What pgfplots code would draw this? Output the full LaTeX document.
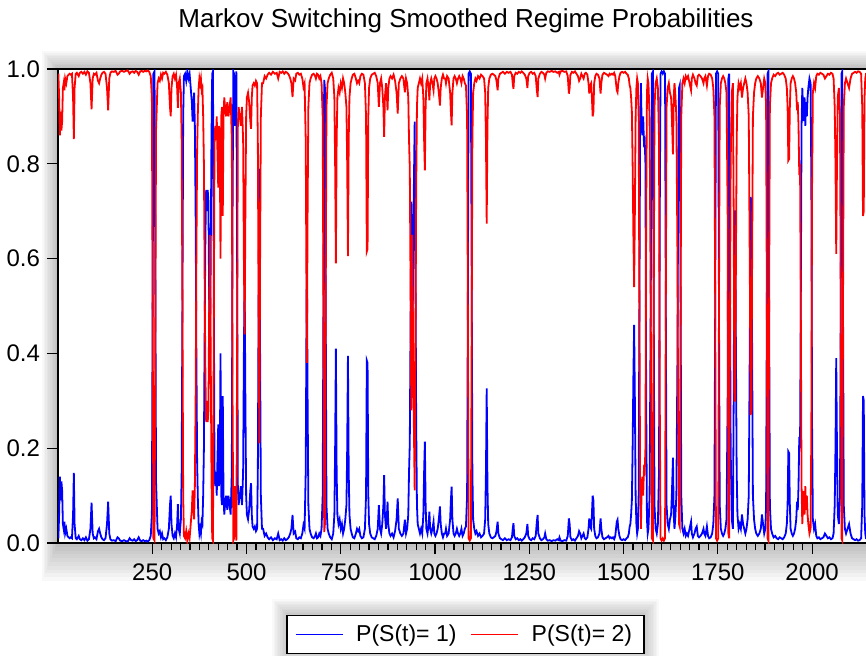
\documentclass[border=0pt]{standalone}
\usepackage{pgfplots}
\usepackage{pgfplotstable}
\usepackage{fontspec}
\setmainfont{Liberation Sans}
\pgfplotsset{compat=1.18}

% smoothed regime probabilities
\pgfplotstableread{
x p1 p2
1 0.010 0.990
3 0.060 0.940
5 0.140 0.860
7 0.090 0.910
9 0.130 0.870
11 0.110 0.890
13 0.040 0.960
15 0.030 0.970
17 0.045 0.955
19 0.020 0.980
22 0.030 0.970
25 0.015 0.985
28 0.012 0.988
31 0.010 0.990
34 0.012 0.988
37 0.010 0.990
40 0.060 0.940
42 0.148 0.852
44 0.040 0.960
47 0.010 0.990
50 0.008 0.992
55 0.015 0.985
58 0.008 0.992
62 0.006 0.994
66 0.010 0.990
70 0.006 0.994
74 0.012 0.988
78 0.005 0.995
82 0.008 0.992
86 0.030 0.970
89 0.085 0.915
92 0.020 0.980
95 0.010 0.990
98 0.012 0.988
102 0.008 0.992
106 0.025 0.975
109 0.030 0.970
112 0.020 0.980
115 0.012 0.988
118 0.008 0.992
122 0.006 0.994
126 0.010 0.990
130 0.040 0.960
133 0.087 0.913
136 0.020 0.980
139 0.008 0.992
143 0.005 0.995
148 0.006 0.994
153 0.004 0.996
158 0.012 0.988
161 0.010 0.990
165 0.005 0.995
170 0.004 0.996
175 0.006 0.994
180 0.004 0.996
185 0.003 0.997
190 0.010 0.990
194 0.006 0.994
198 0.005 0.995
202 0.008 0.992
206 0.004 0.996
210 0.006 0.994
214 0.012 0.988
218 0.005 0.995
222 0.004 0.996
226 0.006 0.994
230 0.004 0.996
234 0.005 0.995
238 0.003 0.997
242 0.006 0.994
246 0.015 0.985
249 0.060 0.940
251 0.500 0.500
253 0.990 0.010
256 0.995 0.005
258 0.600 0.400
260 0.130 0.870
262 0.080 0.920
264 0.030 0.970
267 0.020 0.980
270 0.025 0.975
273 0.012 0.988
276 0.020 0.980
279 0.008 0.992
282 0.010 0.990
286 0.006 0.994
290 0.012 0.988
294 0.030 0.970
297 0.080 0.920
299 0.100 0.900
301 0.040 0.960
304 0.015 0.985
307 0.010 0.990
310 0.020 0.980
313 0.012 0.988
316 0.040 0.960
318 0.082 0.918
320 0.030 0.970
323 0.020 0.980
326 0.050 0.950
328 0.150 0.850
330 0.500 0.500
332 0.900 0.100
334 0.985 0.015
337 0.990 0.010
340 0.975 0.025
343 0.995 0.005
346 0.980 0.020
349 0.990 0.010
352 0.960 0.040
355 0.930 0.070
357 0.889 0.111
359 0.920 0.080
361 0.950 0.050
363 0.880 0.120
365 0.700 0.300
367 0.400 0.600
369 0.170 0.830
371 0.090 0.910
373 0.040 0.960
375 0.020 0.980
377 0.030 0.970
379 0.020 0.980
381 0.045 0.955
383 0.040 0.960
385 0.100 0.900
387 0.200 0.800
389 0.450 0.550
391 0.650 0.350
393 0.745 0.255
395 0.700 0.300
397 0.745 0.255
399 0.720 0.280
401 0.500 0.500
403 0.350 0.650
405 0.600 0.400
407 0.850 0.150
409 0.990 0.010
411 0.995 0.005
413 0.600 0.400
415 0.160 0.840
417 0.120 0.880
419 0.150 0.850
421 0.100 0.900
423 0.180 0.820
425 0.250 0.750
427 0.120 0.880
429 0.150 0.850
431 0.400 0.600
433 0.100 0.900
435 0.080 0.920
437 0.310 0.690
439 0.100 0.900
441 0.060 0.940
443 0.080 0.920
446 0.100 0.900
449 0.070 0.930
452 0.100 0.900
455 0.080 0.920
458 0.060 0.940
461 0.150 0.850
463 0.700 0.300
465 0.995 0.005
467 0.990 0.010
469 0.880 0.120
471 0.950 0.050
473 0.995 0.005
475 0.600 0.400
477 0.120 0.880
479 0.080 0.920
482 0.100 0.900
485 0.120 0.880
488 0.080 0.920
491 0.150 0.850
493 0.400 0.600
495 0.560 0.440
497 0.300 0.700
499 0.100 0.900
501 0.060 0.940
504 0.050 0.950
507 0.070 0.930
510 0.110 0.890
512 0.126 0.874
514 0.060 0.940
516 0.035 0.965
519 0.030 0.970
522 0.035 0.965
525 0.025 0.975
528 0.030 0.970
530 0.150 0.850
532 0.500 0.500
534 0.790 0.210
536 0.400 0.600
538 0.100 0.900
541 0.030 0.970
544 0.030 0.970
548 0.015 0.985
552 0.020 0.980
556 0.012 0.988
560 0.008 0.992
565 0.012 0.988
570 0.006 0.994
575 0.010 0.990
580 0.008 0.992
584 0.020 0.980
588 0.006 0.994
592 0.008 0.992
596 0.005 0.995
600 0.010 0.990
604 0.006 0.994
608 0.008 0.992
612 0.012 0.988
616 0.020 0.980
619 0.030 0.970
622 0.059 0.941
625 0.020 0.980
629 0.024 0.976
632 0.010 0.990
636 0.008 0.992
640 0.012 0.988
644 0.010 0.990
648 0.020 0.980
651 0.038 0.962
654 0.030 0.970
657 0.150 0.850
660 0.620 0.380
662 0.300 0.700
664 0.080 0.920
667 0.030 0.970
670 0.020 0.980
674 0.012 0.988
678 0.010 0.990
682 0.015 0.985
684 0.020 0.980
687 0.010 0.990
690 0.012 0.988
693 0.020 0.980
696 0.015 0.985
699 0.030 0.970
702 0.100 0.900
704 0.500 0.500
706 0.977 0.023
708 0.960 0.040
710 0.500 0.500
712 0.080 0.920
715 0.030 0.970
718 0.020 0.980
722 0.012 0.988
726 0.008 0.992
730 0.020 0.980
733 0.060 0.940
735 0.200 0.800
737 0.410 0.590
739 0.150 0.850
741 0.060 0.940
744 0.040 0.960
747 0.050 0.950
750 0.030 0.970
753 0.040 0.960
756 0.020 0.980
759 0.030 0.970
762 0.050 0.950
765 0.080 0.920
767 0.200 0.800
769 0.395 0.605
771 0.150 0.850
773 0.060 0.940
776 0.030 0.970
779 0.020 0.980
782 0.012 0.988
786 0.010 0.990
790 0.020 0.980
793 0.030 0.970
796 0.025 0.975
799 0.030 0.970
802 0.015 0.985
806 0.010 0.990
810 0.012 0.988
814 0.030 0.970
817 0.100 0.900
819 0.385 0.615
821 0.380 0.620
823 0.100 0.900
825 0.040 0.960
828 0.020 0.980
832 0.012 0.988
836 0.010 0.990
840 0.008 0.992
844 0.015 0.985
848 0.030 0.970
851 0.080 0.920
854 0.030 0.970
857 0.020 0.980
860 0.040 0.960
863 0.080 0.920
865 0.143 0.857
867 0.060 0.940
870 0.030 0.970
872 0.050 0.950
874 0.087 0.913
876 0.040 0.960
879 0.020 0.980
882 0.015 0.985
886 0.020 0.980
890 0.012 0.988
894 0.025 0.975
898 0.050 0.950
901 0.094 0.906
904 0.030 0.970
908 0.020 0.980
912 0.015 0.985
916 0.020 0.980
920 0.049 0.951
923 0.020 0.980
926 0.030 0.970
929 0.060 0.940
931 0.150 0.850
933 0.210 0.790
935 0.450 0.550
937 0.720 0.280
939 0.350 0.650
941 0.500 0.500
943 0.700 0.300
946 0.889 0.111
948 0.600 0.400
950 0.250 0.750
952 0.080 0.920
954 0.040 0.960
957 0.030 0.970
960 0.020 0.980
963 0.030 0.970
966 0.020 0.980
969 0.060 0.940
971 0.150 0.850
973 0.214 0.786
975 0.080 0.920
977 0.030 0.970
980 0.020 0.980
983 0.040 0.960
985 0.066 0.934
987 0.030 0.970
990 0.020 0.980
993 0.030 0.970
996 0.045 0.955
998 0.020 0.980
1001 0.015 0.985
1004 0.020 0.980
1007 0.030 0.970
1010 0.050 0.950
1013 0.077 0.923
1015 0.040 0.960
1018 0.020 0.980
1021 0.012 0.988
1024 0.020 0.980
1027 0.020 0.980
1029 0.030 0.970
1032 0.015 0.985
1036 0.020 0.980
1040 0.050 0.950
1042 0.090 0.910
1044 0.119 0.881
1046 0.050 0.950
1049 0.020 0.980
1052 0.015 0.985
1055 0.020 0.980
1058 0.030 0.970
1061 0.020 0.980
1064 0.015 0.985
1067 0.020 0.980
1070 0.030 0.970
1073 0.015 0.985
1076 0.020 0.980
1079 0.030 0.970
1082 0.035 0.965
1085 0.100 0.900
1087 0.500 0.500
1089 0.990 0.010
1092 0.995 0.005
1095 0.990 0.010
1097 0.600 0.400
1099 0.150 0.850
1101 0.050 0.950
1104 0.030 0.970
1107 0.020 0.980
1110 0.025 0.975
1114 0.015 0.985
1118 0.020 0.980
1122 0.012 0.988
1126 0.015 0.985
1130 0.020 0.980
1133 0.050 0.950
1135 0.150 0.850
1137 0.326 0.674
1139 0.120 0.880
1141 0.040 0.960
1144 0.020 0.980
1148 0.012 0.988
1152 0.010 0.990
1156 0.012 0.988
1160 0.015 0.985
1163 0.025 0.975
1166 0.045 0.955
1168 0.020 0.980
1172 0.010 0.990
1176 0.008 0.992
1180 0.006 0.994
1185 0.010 0.990
1190 0.006 0.994
1195 0.008 0.992
1200 0.006 0.994
1204 0.012 0.988
1206 0.030 0.970
1208 0.042 0.958
1210 0.015 0.985
1214 0.008 0.992
1218 0.010 0.990
1222 0.006 0.994
1226 0.008 0.992
1230 0.005 0.995
1234 0.008 0.992
1238 0.012 0.988
1242 0.020 0.980
1245 0.040 0.960
1247 0.015 0.985
1251 0.008 0.992
1255 0.006 0.994
1259 0.010 0.990
1263 0.008 0.992
1267 0.015 0.985
1270 0.045 0.955
1272 0.059 0.941
1274 0.020 0.980
1278 0.010 0.990
1282 0.006 0.994
1286 0.008 0.992
1290 0.012 0.988
1292 0.020 0.980
1295 0.008 0.992
1299 0.005 0.995
1304 0.006 0.994
1309 0.004 0.996
1314 0.006 0.994
1319 0.005 0.995
1324 0.008 0.992
1328 0.006 0.994
1330 0.012 0.988
1333 0.005 0.995
1338 0.004 0.996
1343 0.006 0.994
1348 0.005 0.995
1352 0.015 0.985
1355 0.052 0.948
1357 0.040 0.960
1359 0.012 0.988
1363 0.006 0.994
1367 0.008 0.992
1371 0.005 0.995
1375 0.010 0.990
1379 0.015 0.985
1382 0.025 0.975
1385 0.020 0.980
1388 0.010 0.990
1391 0.015 0.985
1394 0.020 0.980
1397 0.010 0.990
1400 0.008 0.992
1404 0.012 0.988
1407 0.030 0.970
1409 0.052 0.948
1411 0.035 0.965
1414 0.030 0.970
1416 0.060 0.940
1418 0.100 0.900
1420 0.090 0.910
1422 0.030 0.970
1425 0.015 0.985
1428 0.010 0.990
1432 0.012 0.988
1436 0.020 0.980
1439 0.052 0.948
1441 0.030 0.970
1444 0.012 0.988
1448 0.008 0.992
1452 0.010 0.990
1456 0.012 0.988
1460 0.015 0.985
1463 0.010 0.990
1466 0.012 0.988
1469 0.010 0.990
1472 0.012 0.988
1475 0.008 0.992
1478 0.015 0.985
1480 0.030 0.970
1482 0.045 0.955
1484 0.049 0.951
1486 0.030 0.970
1489 0.015 0.985
1492 0.008 0.992
1496 0.006 0.994
1500 0.008 0.992
1504 0.006 0.994
1508 0.010 0.990
1511 0.012 0.988
1514 0.020 0.980
1516 0.034 0.966
1518 0.040 0.960
1520 0.060 0.940
1522 0.090 0.910
1524 0.200 0.800
1526 0.350 0.650
1528 0.460 0.540
1530 0.300 0.700
1532 0.100 0.900
1534 0.040 0.960
1536 0.020 0.980
1538 0.030 0.970
1540 0.100 0.900
1542 0.500 0.500
1544 0.900 0.100
1546 0.970 0.030
1548 0.880 0.120
1550 0.860 0.140
1552 0.900 0.100
1554 0.845 0.155
1556 0.850 0.150
1558 0.800 0.200
1560 0.300 0.700
1562 0.050 0.950
1564 0.020 0.980
1566 0.030 0.970
1569 0.100 0.900
1572 0.500 0.500
1575 0.990 0.010
1578 0.995 0.005
1580 0.500 0.500
1582 0.080 0.920
1585 0.030 0.970
1588 0.020 0.980
1591 0.040 0.960
1594 0.150 0.850
1596 0.700 0.300
1598 0.990 0.010
1601 0.995 0.005
1604 0.990 0.010
1607 0.995 0.005
1610 0.990 0.010
1612 0.500 0.500
1614 0.080 0.920
1617 0.040 0.960
1620 0.030 0.970
1623 0.050 0.950
1626 0.060 0.940
1628 0.100 0.900
1631 0.180 0.820
1633 0.060 0.940
1635 0.030 0.970
1637 0.049 0.951
1640 0.100 0.900
1643 0.400 0.600
1645 0.800 0.200
1647 0.960 0.040
1649 0.966 0.034
1651 0.600 0.400
1653 0.100 0.900
1656 0.030 0.970
1659 0.020 0.980
1662 0.030 0.970
1665 0.015 0.985
1668 0.020 0.980
1671 0.015 0.985
1675 0.030 0.970
1679 0.045 0.955
1681 0.020 0.980
1684 0.012 0.988
1688 0.020 0.980
1691 0.030 0.970
1694 0.035 0.965
1697 0.015 0.985
1700 0.012 0.988
1704 0.015 0.985
1708 0.020 0.980
1712 0.030 0.970
1714 0.020 0.980
1717 0.015 0.985
1721 0.035 0.965
1724 0.015 0.985
1727 0.010 0.990
1731 0.012 0.988
1735 0.020 0.980
1738 0.040 0.960
1741 0.100 0.900
1743 0.500 0.500
1745 0.990 0.010
1748 0.995 0.005
1751 0.990 0.010
1753 0.500 0.500
1755 0.080 0.920
1758 0.030 0.970
1761 0.020 0.980
1764 0.015 0.985
1767 0.020 0.980
1770 0.030 0.970
1773 0.050 0.950
1776 0.300 0.700
1778 0.980 0.020
1780 0.990 0.010
1782 0.600 0.400
1784 0.200 0.800
1787 0.050 0.950
1790 0.030 0.970
1792 0.300 0.700
1794 0.700 0.300
1796 0.700 0.300
1798 0.400 0.600
1800 0.150 0.850
1802 0.060 0.940
1805 0.030 0.970
1808 0.040 0.960
1811 0.030 0.970
1814 0.060 0.940
1817 0.040 0.960
1820 0.030 0.970
1823 0.020 0.980
1826 0.030 0.970
1829 0.050 0.950
1832 0.100 0.900
1835 0.450 0.550
1837 0.730 0.270
1839 0.720 0.280
1841 0.400 0.600
1843 0.100 0.900
1846 0.050 0.950
1849 0.030 0.970
1852 0.020 0.980
1856 0.015 0.985
1860 0.020 0.980
1864 0.030 0.970
1867 0.060 0.940
1870 0.040 0.960
1873 0.020 0.980
1876 0.030 0.970
1878 0.080 0.920
1880 0.500 0.500
1882 0.990 0.010
1884 0.995 0.005
1886 0.500 0.500
1888 0.080 0.920
1891 0.030 0.970
1894 0.020 0.980
1898 0.012 0.988
1902 0.015 0.985
1906 0.010 0.990
1910 0.008 0.992
1914 0.012 0.988
1918 0.010 0.990
1922 0.008 0.992
1926 0.012 0.988
1930 0.020 0.980
1933 0.040 0.960
1935 0.080 0.920
1937 0.193 0.807
1939 0.190 0.810
1941 0.080 0.920
1943 0.030 0.970
1946 0.020 0.980
1949 0.015 0.985
1952 0.020 0.980
1955 0.030 0.970
1958 0.050 0.950
1960 0.087 0.913
1962 0.070 0.930
1964 0.120 0.880
1966 0.224 0.776
1968 0.200 0.800
1970 0.500 0.500
1972 0.880 0.120
1974 0.960 0.040
1976 0.920 0.080
1978 0.890 0.110
1980 0.940 0.060
1982 0.880 0.120
1984 0.930 0.070
1986 0.900 0.100
1988 0.940 0.060
1990 0.960 0.040
1993 0.980 0.020
1996 0.970 0.030
1998 0.760 0.240
2000 0.240 0.760
2002 0.050 0.950
2005 0.030 0.970
2008 0.040 0.960
2011 0.015 0.985
2014 0.010 0.990
2018 0.012 0.988
2022 0.008 0.992
2026 0.010 0.990
2030 0.012 0.988
2034 0.020 0.980
2038 0.015 0.985
2042 0.010 0.990
2046 0.012 0.988
2050 0.008 0.992
2054 0.010 0.990
2057 0.020 0.980
2060 0.080 0.920
2062 0.200 0.800
2064 0.390 0.610
2066 0.200 0.800
2068 0.060 0.940
2071 0.040 0.960
2074 0.100 0.900
2076 0.500 0.500
2078 0.990 0.010
2080 0.995 0.005
2082 0.500 0.500
2084 0.080 0.920
2087 0.030 0.970
2090 0.020 0.980
2094 0.030 0.970
2098 0.040 0.960
2102 0.020 0.980
2106 0.010 0.990
2110 0.008 0.992
2114 0.006 0.994
2118 0.008 0.992
2122 0.005 0.995
2126 0.006 0.994
2130 0.010 0.990
2133 0.080 0.920
2135 0.310 0.690
2137 0.300 0.700
2139 0.060 0.940
2141 0.020 0.980
2143 0.010 0.990
2150 0.008 0.992
}\msdata

\begin{document}
\begin{tikzpicture}
% page = 866 x 655 px at 0.5pt per px; the frame is cut off at the right edge
\useasboundingbox (-29pt,-56pt) rectangle (404pt,271.5pt);

% soft grey shadow round the plot frame and the legend
\foreach \d in {10,9,...,1}{
  \fill[black,opacity=0.028] (-0.8*\d pt,-1.9*\d pt) rectangle (404pt+\d pt,237pt+0.9*\d pt);
  \fill[black,opacity=0.022] (115pt-0.8*\d pt,-54.5pt-0.5*\d pt) rectangle (292.5pt+0.8*\d pt,-36pt+0.8*\d pt);
}

\begin{axis}[
    scale only axis,
    width=410pt, height=237pt,
    xmin=0, xmax=2174.8,
    ymin=0, ymax=1,
    axis background/.style={fill=white},
    axis line style={line width=0.8pt},
    tick align=outside,
    tick pos=left,
    tick style={black, line width=0.6pt},
    major tick length=5.5pt,
    minor tick length=3.5pt,
    xtick={250,500,750,1000,1250,1500,1750,2000},
    xticklabels={250,500,750,1000,1250,1500,1750,2000},
    minor x tick num=9,
    ytick={0,0.2,0.4,0.6,0.8,1},
    yticklabels={0.0,0.2,0.4,0.6,0.8,1.0},
    ticklabel style={font=\fontsize{12}{14}\selectfont},
    xticklabel style={yshift=-1.5pt},
    legend columns=2,
    legend cell align=left,
    legend image code/.code={\draw[#1,line width=0.6pt] (0pt,0pt) -- (23.5pt,0pt);},
    legend style={
        at={(0.49695,-0.1519)}, anchor=north,
        draw=black, line width=0.6pt, fill=white,
        font=\fontsize{11.5}{13}\selectfont,
        inner xsep=4pt, inner ysep=2.5pt,
        /tikz/every odd column/.append style={column sep=4.5pt},
        /tikz/every even column/.append style={column sep=5pt},
    },
]
\addplot[color={rgb,255:red,0;green,0;blue,255}, line width=0.9pt] table[x=x, y=p1] {\msdata};
\addlegendentry{P(S(t)= 1)}
\addplot[color={rgb,255:red,255;green,0;blue,0}, line width=0.9pt] table[x=x, y=p2] {\msdata};
\addlegendentry{P(S(t)= 2)}
\end{axis}

\node[anchor=base, font=\fontsize{13}{15}\selectfont] at (204pt,258pt)
    {Markov Switching Smoothed Regime Probabilities};
\end{tikzpicture}
\end{document}
